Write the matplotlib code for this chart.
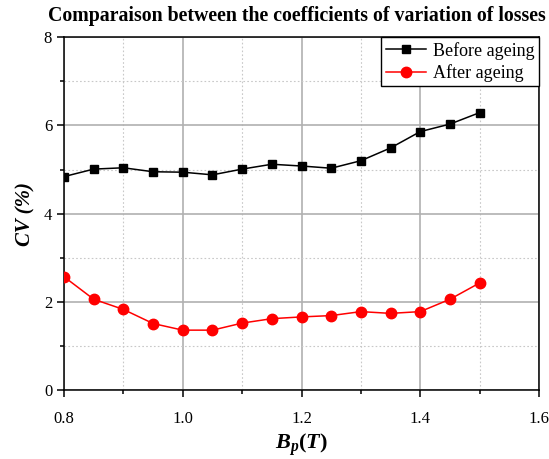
import numpy as np
import matplotlib
matplotlib.use("Agg")
import matplotlib.pyplot as plt
from matplotlib.ticker import MultipleLocator, FormatStrFormatter

# values
bp = [0.80, 0.85, 0.90, 0.95, 1.00, 1.05, 1.10, 1.15, 1.20, 1.25, 1.30, 1.35, 1.40, 1.45, 1.50]
cv_before = [4.84, 5.01, 5.04, 4.95, 4.94, 4.88, 5.01, 5.12, 5.08, 5.03, 5.20, 5.49, 5.86, 6.03, 6.29]
cv_after = [2.57, 2.06, 1.83, 1.51, 1.36, 1.36, 1.52, 1.62, 1.66, 1.69, 1.78, 1.74, 1.78, 2.06, 2.43]

plt.rcParams['font.family'] = ['Liberation Serif', 'DejaVu Serif']
plt.rcParams['mathtext.fontset'] = 'custom'
plt.rcParams['mathtext.it'] = 'Liberation Serif:bold:italic'
plt.rcParams['mathtext.rm'] = 'Liberation Serif:bold'

fig = plt.figure(figsize=(5.49, 4.59), dpi=100)
ax = fig.add_axes([0.1166, 0.150, 0.8652, 0.769])

ax.plot(bp, cv_before, color='black', marker='s', markersize=6, linewidth=1.1, label='Before ageing', zorder=3)
ax.plot(bp, cv_after, color='red', marker='o', markersize=7.5, linewidth=1.1, label='After ageing', zorder=3)

ax.set_xlim(0.8, 1.6)
ax.set_ylim(0, 8)
ax.xaxis.set_major_locator(MultipleLocator(0.2))
ax.xaxis.set_minor_locator(MultipleLocator(0.1))
ax.yaxis.set_major_locator(MultipleLocator(2))
ax.yaxis.set_minor_locator(MultipleLocator(1))
ax.xaxis.set_major_formatter(FormatStrFormatter('%.1f'))

ax.grid(which='major', color='#b0b0b0', linewidth=1.2, linestyle='-')
ax.grid(which='minor', color='#c8c8c8', linewidth=0.8, linestyle=(0, (1.5, 2)))
ax.set_axisbelow(True)

ax.tick_params(which='both', direction='out', top=False, right=False, labelsize=12, width=1.1)
ax.tick_params(which='major', length=5)
ax.tick_params(which='minor', length=3)
ax.tick_params(axis='x', which='major', pad=10)
for s in ax.spines.values():
    s.set_linewidth(1.1)

ax.set_xlabel(r'$B_p(T)$', fontsize=16, labelpad=3)
ax.set_ylabel('CV (%)', fontsize=15, fontweight='bold', fontstyle='italic', labelpad=6)
ax.set_title('Comparaison between the coefficients of variation of losses',
             fontsize=14.3, fontweight='bold', pad=12, x=0.49)

leg = ax.legend(loc='upper right', fontsize=13, frameon=True, fancybox=False,
                edgecolor='black', framealpha=1, borderaxespad=0, handlelength=2.2,
                borderpad=0.25, labelspacing=0.25, handletextpad=0.4)
leg.get_frame().set_linewidth(1.0)

fig.savefig('out.png', dpi=100)
